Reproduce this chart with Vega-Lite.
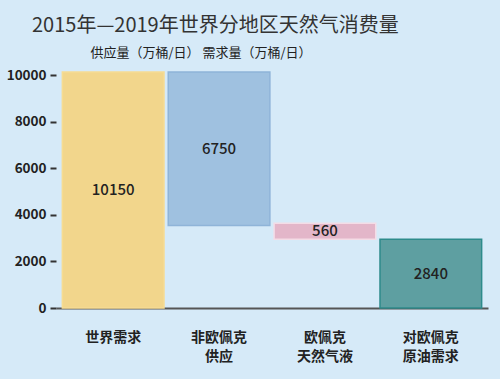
{
  "$schema": "https://vega.github.io/schema/vega-lite/v6.json",
  "width": 432,
  "height": 236,
  "autosize": {"type": "none"},
  "padding": {"left": 56, "top": 72, "right": 12, "bottom": 71},
  "background": "#d6eaf8",
  "config": {"font": "Noto Sans CJK SC", "view": {"stroke": null}},
  "title": {
    "text": "2015年—2019年世界分地区天然气消费量",
    "anchor": "start",
    "frame": "group",
    "dx": -24,
    "fontSize": 20,
    "fontWeight": "normal",
    "color": "#333333",
    "offset": 10
  },
  "data": {
    "values": [
      {"cat": "世界需求", "start": 0, "end": 10150, "label": "10150"},
      {"cat": "非欧佩克\n供应", "start": 3550, "end": 10150, "label": "6750"},
      {"cat": "欧佩克\n天然气液", "start": 2960, "end": 3650, "label": "560"},
      {"cat": "对欧佩克\n原油需求", "start": 0, "end": 2960, "label": "2840"}
    ]
  },
  "encoding": {
    "x": {
      "field": "cat",
      "type": "nominal",
      "sort": null,
      "scale": {"paddingInner": 0.04, "paddingOuter": 0.06},
      "axis": {
        "title": null,
        "labelAngle": 0,
        "labelExpr": "split(datum.label, '\\n')",
        "labelFontSize": 14,
        "labelFontWeight": "bold",
        "labelColor": "#222222",
        "labelPadding": 22,
        "labelLineHeight": 19,
        "ticks": false,
        "domainColor": "#555555",
        "domainWidth": 2,
        "zindex": 0
      }
    }
  },
  "layer": [
    {
      "mark": {"type": "bar", "strokeWidth": 1.5},
      "encoding": {
        "y": {
          "field": "start",
          "type": "quantitative",
          "scale": {"domain": [0, 10150], "nice": false},
          "axis": {
            "title": "供应量（万桶/日） 需求量（万桶/日）",
            "titleAngle": 0,
            "titleAlign": "left",
            "titleBaseline": "middle",
            "titleX": 34,
            "titleY": -20,
            "titleFontSize": 13,
            "titleFontWeight": "normal",
            "titleColor": "#222222",
            "values": [0, 2000, 4000, 6000, 8000, 10000],
            "format": "d",
            "labelFontSize": 13.5,
            "labelFontWeight": "bold",
            "labelColor": "#222222",
            "labelPadding": 4,
            "domain": false,
            "grid": false,
            "tickColor": "#333333",
            "tickWidth": 2,
            "tickSize": 6
          }
        },
        "y2": {"field": "end"},
        "color": {
          "field": "cat",
          "type": "nominal",
          "scale": {
            "domain": ["世界需求", "非欧佩克\n供应", "欧佩克\n天然气液", "对欧佩克\n原油需求"],
            "range": ["#f2d68c", "#9fc1e0", "#e3b6c9", "#5e9fa1"]
          },
          "legend": null
        },
        "stroke": {
          "field": "cat",
          "type": "nominal",
          "scale": {
            "domain": ["世界需求", "非欧佩克\n供应", "欧佩克\n天然气液", "对欧佩克\n原油需求"],
            "range": ["#f6dc92", "#8fb4d8", "#f4dce6", "#2e8b8b"]
          },
          "legend": null
        }
      }
    },
    {
      "transform": [{"fold": ["start", "end"]}],
      "mark": {"type": "text", "fontSize": 15, "color": "#222222", "fontWeight": 500},
      "encoding": {
        "y": {"aggregate": "mean", "field": "value", "type": "quantitative"},
        "text": {"field": "label"}
      }
    }
  ]
}
